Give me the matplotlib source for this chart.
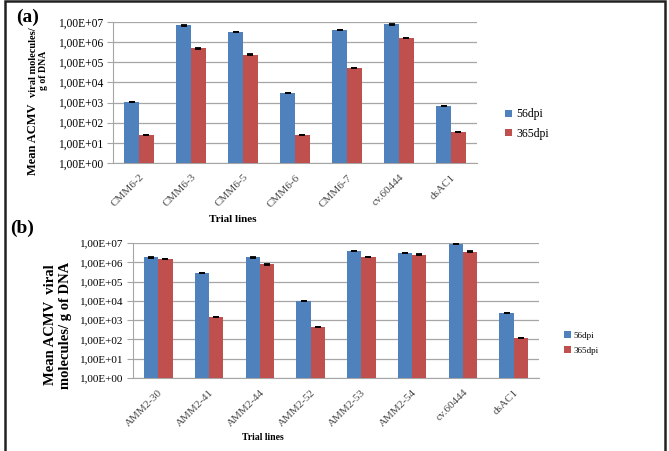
import numpy as np
import matplotlib
matplotlib.use('Agg')
import matplotlib.pyplot as plt
from matplotlib.patches import Rectangle

plt.rcParams['font.family'] = ['Liberation Serif', 'DejaVu Serif']

# panel (a) data
lines_a = ['CMM6-2', 'CMM6-3', 'CMM6-5', 'CMM6-6', 'CMM6-7', 'cv.60444', 'dsAC1']
dpi56_a = [1.05e3, 6.8e6, 3.3e6, 2.9e3, 4.0e6, 7.6e6, 7.0e2]
dpi365_a = [25, 4.9e5, 2.4e5, 25, 5.1e4, 1.6e6, 35]

# panel (b) data
lines_b = ['AMM2-30', 'AMM2-41', 'AMM2-44', 'AMM2-52', 'AMM2-53', 'AMM2-54', 'cv.60444', 'dsAC1']
dpi56_b = [1.8e6, 2.7e5, 1.8e6, 9.8e3, 4.0e6, 3.1e6, 9.2e6, 2.4e3]
dpi365_b = [1.5e6, 1.4e3, 7.7e5, 4.5e2, 1.9e6, 2.5e6, 3.6e6, 1.2e2]

series_names = ['56dpi', '365dpi']
BLUE, RED = '#4F81BD', '#C0504D'
W, H = 669, 451

fig = plt.figure(figsize=(W / 100, H / 100), dpi=100)


def px_axes(left, top, right, bottom):
    return fig.add_axes([left / W, 1 - bottom / H, (right - left) / W, (bottom - top) / H])


def draw_panel(ax, cats, v1, v2, tick_fs, xtick_fs):
    x = np.arange(len(cats))
    bw = 0.28
    err_kw = dict(ecolor='black', capsize=2.5, capthick=1.3, elinewidth=0.6)
    ax.bar(x - bw / 2, v1, bw, color=BLUE, yerr=np.array(v1) * 0.02, error_kw=err_kw,
           label=series_names[0], zorder=3)
    ax.bar(x + bw / 2, v2, bw, color=RED, yerr=np.array(v2) * 0.02, error_kw=err_kw,
           label=series_names[1], zorder=3)
    ax.set_yscale('log')
    ax.set_ylim(1, 1e7)
    ax.set_xlim(-0.5, len(cats) - 0.5)
    decades = [10.0 ** k for k in range(8)]
    ax.set_yticks(decades)
    ax.set_yticklabels(['1,00E+%02d' % k for k in range(8)], fontsize=tick_fs)
    ax.yaxis.set_minor_locator(matplotlib.ticker.NullLocator())
    ax.grid(True, axis='y', color='#A6A6A6', linewidth=0.9, zorder=0)
    ax.set_xticks(x)
    ax.set_xticklabels(cats, rotation=45, ha='right', rotation_mode='anchor',
                       fontsize=xtick_fs, color='#4A4A4A')
    ax.tick_params(axis='x', length=0, pad=7)
    ax.tick_params(axis='y', length=4, color='#A6A6A6', pad=3)
    for s in ['top', 'right']:
        ax.spines[s].set_visible(False)
    for s in ['left', 'bottom']:
        ax.spines[s].set_color('#A6A6A6')
    ax.set_axisbelow(True)


# (a)
ax_a = px_axes(113, 22, 477, 163)
draw_panel(ax_a, lines_a, dpi56_a, dpi365_a, 8.3, 8)
ax_a.legend(loc='center left', bbox_to_anchor=(494 / W, 1 - 124 / H), bbox_transform=fig.transFigure,
            frameon=False, fontsize=8.5, handlelength=0.6, handleheight=0.6, handletextpad=0.4,
            labelspacing=0.6)
fig.text(28 / W, 1 - 17 / H, '(a)', fontsize=14, fontweight='bold', ha='center', va='center')
fig.text(33 / W, 1 - 175 / H, 'Mean ACMV ', fontsize=9, fontweight='bold', rotation=90,
         ha='center', va='bottom')
fig.text(33 / W, 1 - 97 / H, 'viral molecules/', fontsize=7.5, fontweight='bold', rotation=90,
         ha='center', va='bottom')
fig.text(43 / W, 1 - 70 / H, 'g of DNA', fontsize=7, fontweight='bold', rotation=90,
         ha='center', va='center')
fig.text(233 / W, 1 - 219 / H, 'Trial lines', fontsize=8, fontweight='bold', ha='center', va='center')

# (b)
ax_b = px_axes(133, 243, 539, 378)
draw_panel(ax_b, lines_b, dpi56_b, dpi365_b, 8, 8)
ax_b.legend(loc='center left', bbox_to_anchor=(556 / W, 1 - 343 / H), bbox_transform=fig.transFigure,
            frameon=False, fontsize=6.5, handlelength=0.8, handleheight=0.8, handletextpad=0.2,
            labelspacing=0.7)
fig.text(22 / W, 1 - 228 / H, '(b)', fontsize=14, fontweight='bold', ha='center', va='center')
fig.text(58 / W, 1 - 325 / H, 'Mean ACMV  viral\nmolecules/ g of DNA', fontsize=10.5,
         fontweight='bold', rotation=90, ha='center', va='center', linespacing=1.3)
fig.text(263 / W, 1 - 438 / H, 'Trial lines', fontsize=7, fontweight='bold', ha='center', va='center')

# outer frame (bottom edge falls off the picture, as in the scan)
fig.patches.append(Rectangle((5 / W, -5 / H), 660 / W, 455 / H, transform=fig.transFigure,
                             fill=False, edgecolor='#222222', linewidth=1.8))

fig.savefig('out.png', dpi=100)
